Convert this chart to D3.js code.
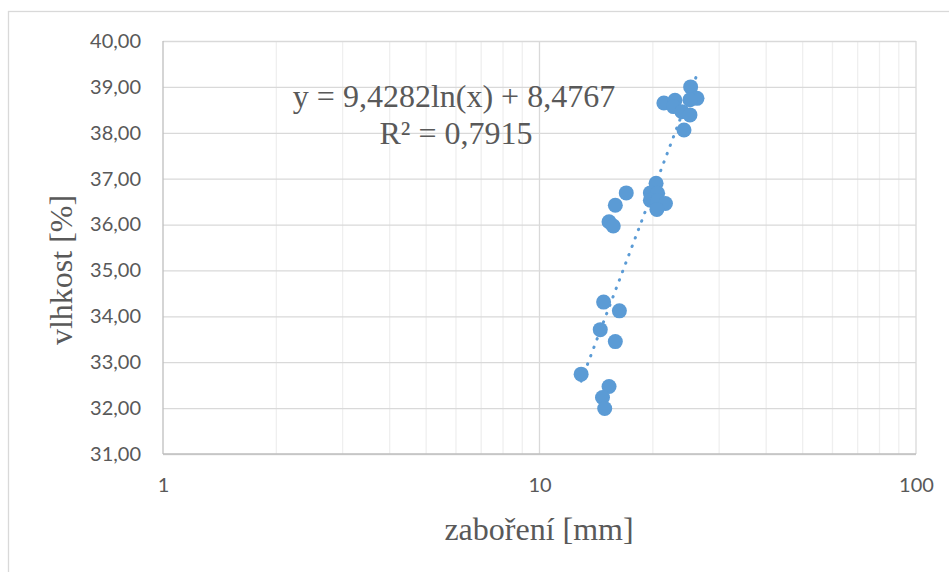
<!DOCTYPE html>
<html>
<head>
<meta charset="utf-8">
<script src="https://cdn.jsdelivr.net/npm/d3@7"></script>
<style>
  body { margin: 0; background: #fff; }
  svg { display: block; }
  .tick text { fill: #595959; font-family: Lato, "Open Sans", sans-serif; font-size: 20px; }
  .title { fill: #595959; font-family: "Liberation Serif", "Times New Roman", serif; }
</style>
</head>
<body>
<div id="chart"></div>
<script>
// zaboření [mm] vs. vlhkost [%]
const zaboreni = [25.2, 26.2, 25.1, 21.4, 22.9, 22.7, 23.9, 25.1, 24.2,
                  20.4, 17.0, 19.7, 20.6, 19.7, 20.6, 21.6, 20.5, 15.9, 15.3, 15.7,
                  14.8, 16.3, 14.5, 15.9, 12.9, 15.3, 14.7, 14.9];
const vlhkost  = [39.00, 38.75, 38.72, 38.65, 38.71, 38.57, 38.46, 38.39, 38.06,
                  36.90, 36.69, 36.69, 36.68, 36.53, 36.52, 36.46, 36.33, 36.42, 36.06, 35.97,
                  34.31, 34.12, 33.71, 33.45, 32.74, 32.47, 32.23, 31.99];

// logarithmic trend line y = a*ln(x) + b
const trendA = 9.4282;
const trendB = 8.4767;
const trendLabel = ["y = 9,4282ln(x) + 8,4767", "R² = 0,7915"];

const xTicks = [1, 10, 100];
const yTicks = d3.range(31, 41, 1);

const xLabel = "zaboření [mm]";
const yLabel = "vlhkost [%]";

const W = 949, H = 572;
const margin = { top: 41, right: 33, bottom: 118, left: 163 };
const width = W - margin.left - margin.right;
const height = H - margin.top - margin.bottom;

const svg = d3.select("#chart").append("svg")
    .attr("width", W)
    .attr("height", H);

svg.append("rect")
    .attr("width", W).attr("height", H)
    .attr("fill", "#fff");

// outer chart border
svg.append("rect")
    .attr("x", 8.5).attr("y", 11.5)
    .attr("width", 980).attr("height", 620)
    .attr("fill", "none")
    .attr("stroke", "#d9d9d9")
    .attr("stroke-width", 1.3);

const g = svg.append("g")
    .attr("transform", `translate(${margin.left},${margin.top})`);

const x = d3.scaleLog().domain([1, 100]).range([0, width]);
const y = d3.scaleLinear().domain([31, 40]).range([height, 0]);

// minor vertical gridlines
const minorTicks = [];
[1, 10].forEach(dec => d3.range(2, 10).forEach(m => minorTicks.push(dec * m)));
g.append("g").selectAll("line")
    .data(minorTicks)
    .join("line")
    .attr("x1", d => x(d)).attr("x2", d => x(d))
    .attr("y1", 0).attr("y2", height)
    .attr("stroke", "#efefef")
    .attr("stroke-width", 1.3);

// major vertical gridlines
g.append("g").selectAll("line")
    .data(xTicks.slice(1))
    .join("line")
    .attr("x1", d => x(d)).attr("x2", d => x(d))
    .attr("y1", 0).attr("y2", height)
    .attr("stroke", "#d9d9d9")
    .attr("stroke-width", 1.3);

// y axis with horizontal gridlines
const yAxis = g.append("g")
    .call(d3.axisLeft(y)
        .tickValues(yTicks)
        .tickSize(-width)
        .tickPadding(22)
        .tickFormat(d => d3.format(".2f")(d).replace(".", ",")));
yAxis.select(".domain").remove();
yAxis.selectAll(".tick line")
    .attr("stroke", "#d9d9d9")
    .attr("stroke-width", 1.3);

// x axis
const xAxis = g.append("g")
    .attr("transform", `translate(0,${height})`)
    .call(d3.axisBottom(x)
        .tickValues(xTicks)
        .tickSize(0)
        .tickPadding(24)
        .tickFormat(d3.format("d")));
xAxis.select(".domain").remove();

// axis lines
g.append("line")
    .attr("x1", 0).attr("x2", width)
    .attr("y1", height).attr("y2", height)
    .attr("stroke", "#bfbfbf").attr("stroke-width", 1.3);
g.append("line")
    .attr("x1", 0).attr("x2", 0)
    .attr("y1", 0).attr("y2", height)
    .attr("stroke", "#bfbfbf").attr("stroke-width", 1.3);

// trend line
const xExt = d3.extent(zaboreni);
g.append("path")
    .datum(xExt)
    .attr("d", d3.line()
        .x(d => x(d))
        .y(d => y(trendA * Math.log(d) + trendB)))
    .attr("fill", "none")
    .attr("stroke", "#5b9bd5")
    .attr("stroke-width", 3)
    .attr("stroke-linecap", "round")
    .attr("stroke-dasharray", "0.5,8.5");

// points
const points = zaboreni.map((v, i) => ({ x: v, y: vlhkost[i] }));
g.append("g").selectAll("circle")
    .data(points)
    .join("circle")
    .attr("cx", d => x(d.x))
    .attr("cy", d => y(d.y))
    .attr("r", 7.5)
    .attr("fill", "#5b9bd5");

// trend equation
g.append("text")
    .attr("class", "title")
    .attr("x", 291)
    .attr("y", 66)
    .attr("text-anchor", "middle")
    .style("font-size", "32px")
    .text(trendLabel[0]);
g.append("text")
    .attr("class", "title")
    .attr("x", 293)
    .attr("y", 103)
    .attr("text-anchor", "middle")
    .style("font-size", "32px")
    .text(trendLabel[1]);

// axis titles
svg.append("text")
    .attr("class", "title")
    .attr("x", 539)
    .attr("y", 540)
    .attr("text-anchor", "middle")
    .style("font-size", "32px")
    .text(xLabel);

svg.append("text")
    .attr("class", "title")
    .attr("transform", "translate(72,270) rotate(-90)")
    .attr("text-anchor", "middle")
    .style("font-size", "32px")
    .text(yLabel);
</script>
</body>
</html>
